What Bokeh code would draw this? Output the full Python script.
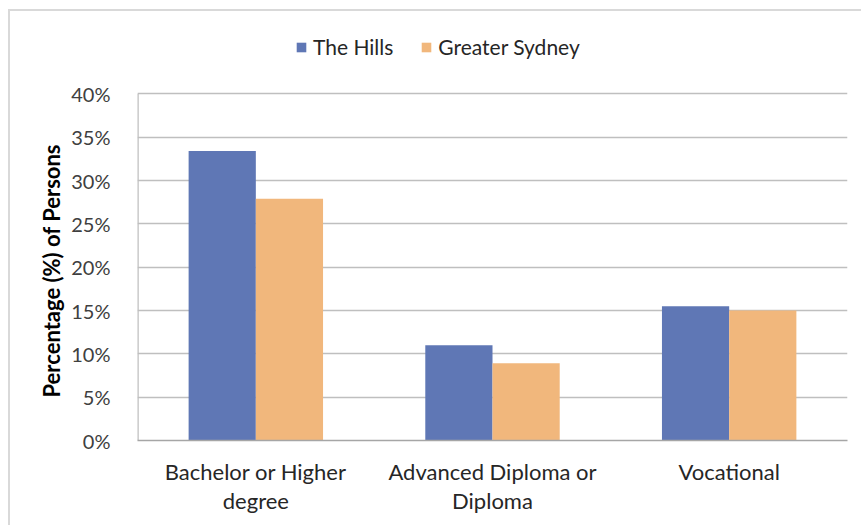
from bokeh.plotting import figure
from bokeh.models import (FactorRange, ColumnDataSource, Legend, LegendItem,
                          FixedTicker, PrintfTickFormatter, Title)
from bokeh.transform import dodge
from bokeh.embed import file_html
from bokeh.resources import INLINE

# Qualification levels and share of persons (%)
categories = ["Bachelor or Higher\ndegree", "Advanced Diploma or\nDiploma", "Vocational"]
the_hills = [33.4, 11.0, 15.5]
greater_sydney = [27.9, 8.9, 15.0]
series_names = ["The Hills", "Greater Sydney"]
y_ticks = [0, 5, 10, 15, 20, 25, 30, 35, 40]
y_title = "Percentage (%) of Persons"

BLUE = "#5F77B5"
ORANGE = "#F1B77C"
GRID = "#BFBFBF"
FONT = "Lato"

source = ColumnDataSource(dict(cat=categories, hills=the_hills, sydney=greater_sydney))

# The plot frame reaches up into the legend strip so the legend is not clipped;
# ticks and grid stop at 40%.
p = figure(
    width=853, height=516,
    x_range=FactorRange(*categories, range_padding=0),
    y_range=(0, 47.54),
    output_backend="svg", toolbar_location=None,
    min_border_left=127, min_border_right=16,
    min_border_top=17, min_border_bottom=87,
)
p.styles = {"margin-left": "8px", "margin-top": "9px",
            "border-left": "2px solid #D9D9D9", "border-top": "2px solid #D9D9D9"}
p.background_fill_color = "white"
p.border_fill_color = "white"
p.outline_line_color = None

bw = 0.284
r1 = p.vbar(x=dodge("cat", -bw / 2, range=p.x_range), top="hills", width=bw,
            source=source, fill_color=BLUE, line_color=None)
r2 = p.vbar(x=dodge("cat", bw / 2, range=p.x_range), top="sydney", width=bw,
            source=source, fill_color=ORANGE, line_color=None)

# Vertical value-axis line, from 0% up to the top tick
p.segment(x0=0, y0=y_ticks[0], x1=0, y1=y_ticks[-1], line_color=GRID, line_width=2.5)

# Y axis
p.yaxis.ticker = FixedTicker(ticks=y_ticks)
p.yaxis.formatter = PrintfTickFormatter(format="%d%%")
p.yaxis.axis_line_color = None
p.yaxis.major_tick_line_color = None
p.yaxis.minor_tick_line_color = None
p.yaxis.major_label_text_font = FONT
p.yaxis.major_label_text_font_size = "20px"
p.yaxis.major_label_text_color = "#404040"
p.yaxis.major_label_standoff = 21

p.add_layout(Title(text=y_title, align="left", offset=43,
                   text_font=FONT, text_font_size="22px", text_font_style="bold",
                   text_color="#000000", standoff=8), "left")

# X axis
p.xaxis.axis_line_color = "#A6A6A6"
p.xaxis.axis_line_width = 1.5
p.xaxis.major_tick_line_color = None
p.xaxis.minor_tick_line_color = None
p.xaxis.major_label_text_font = FONT
p.xaxis.major_label_text_font_size = "22px"
p.xaxis.major_label_text_color = "#262626"
p.xaxis.major_label_text_line_height = 1.1
p.xaxis.major_label_standoff = 11

# Grid
p.xgrid.grid_line_color = None
p.ygrid.grid_line_color = GRID
p.ygrid.grid_line_width = 1.5

legend = Legend(
    items=[LegendItem(label=series_names[0], renderers=[r1]),
           LegendItem(label=series_names[1], renderers=[r2])],
    orientation="horizontal",
    location=(158, 381),
    glyph_width=12, glyph_height=12,
    label_standoff=6, spacing=27,
    padding=0, margin=0,
    border_line_color=None, background_fill_alpha=0,
    label_text_font=FONT, label_text_font_size="21px",
    label_text_color="#262626",
)
p.add_layout(legend, "center")

open("out.html", "w").write(file_html(p, INLINE))
